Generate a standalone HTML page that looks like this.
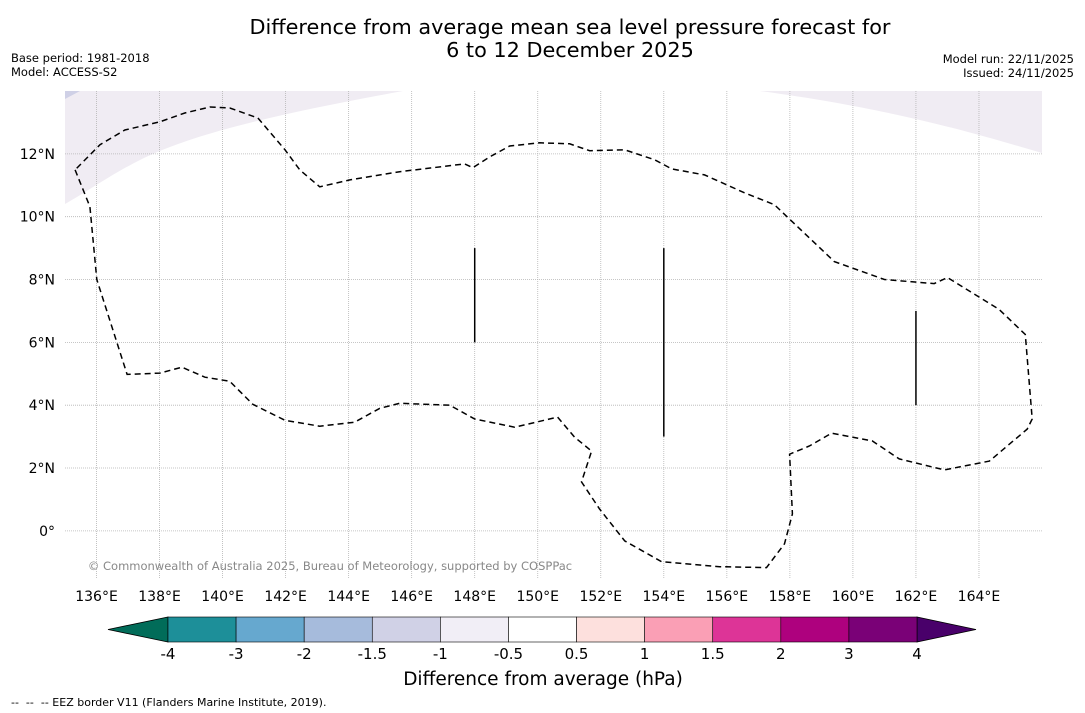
<!DOCTYPE html>
<html><head><meta charset="utf-8"><style>
body{margin:0;background:#fff;width:1085px;height:713px;overflow:hidden;font-family:"DejaVu Sans","Liberation Sans",sans-serif}
svg{display:block}
</style></head><body>
<svg id="chart" width="1085" height="713" viewBox="0 0 1085 713">
<text x="570" y="34" font-size="20.8" text-anchor="middle">Difference from average mean sea level pressure forecast for</text>
<text x="570" y="57" font-size="20.8" text-anchor="middle">6 to 12 December 2025</text>
<text x="11" y="62" font-size="11.5">Base period: 1981-2018</text>
<text x="11" y="76" font-size="11.5">Model: ACCESS-S2</text>
<text x="1074" y="63" font-size="11.5" text-anchor="end">Model run: 22/11/2025</text>
<text x="1074" y="77" font-size="11.5" text-anchor="end">Issued: 24/11/2025</text>
<g id="map">
<path d="M65,91 L403,91 C300,110 200,130 140,160 C110,175 85,193 65,204 Z" fill="#f0ecf3"/>
<path d="M65,91 L80,91 L65,99 Z" fill="#cfd0e6"/>
<path d="M760,91 L1042,91 L1042,153 C980,135 900,110 760,91 Z" fill="#f0ecf3"/>
<g id="grid"></g>
<g id="marks"></g>
</g>
<text x="330" y="570" font-size="11.5" fill="#888" text-anchor="middle">© Commonwealth of Australia 2025, Bureau of Meteorology, supported by COSPPac</text>
<g id="xticks"></g><g id="yticks"></g>
<g id="colorbar"></g>
<text x="543" y="685" font-size="18.5" text-anchor="middle">Difference from average (hPa)</text>
<text x="11" y="706" font-size="11" xml:space="preserve">--  --  -- EEZ border V11 (Flanders Marine Institute, 2019).</text>
</svg>
<script>
const lonTicks=[136,138,140,142,144,146,148,150,152,154,156,158,160,162,164];
const latTicks=[0,2,4,6,8,10,12];
const eezLon=[135.32,135.79,136.01,136.97,138.01,138.71,139.44,140.23,140.96,141.98,143.08,144.19,144.99,145.62,147.21,148.0,149.27,150.63,151.17,151.71,151.39,151.96,152.76,153.93,155.77,157.26,157.83,158.08,157.99,158.62,159.32,160.62,161.47,162.9,164.33,165.53,165.69,165.47,164.64,163.0,162.58,161.0,159.41,157.51,156.56,155.29,154.25,153.71,152.76,151.65,151.01,150.06,149.11,148.47,147.94,147.68,145.62,144.04,143.08,142.45,141.98,141.12,140.23,139.6,138.8,138.01,136.9,136.11,135.32];
const eezLat=[11.49,10.32,8.0,4.98,5.02,5.21,4.89,4.76,4.03,3.52,3.33,3.46,3.9,4.06,4.0,3.56,3.3,3.62,2.98,2.54,1.56,0.7,-0.32,-0.98,-1.14,-1.17,-0.41,0.54,2.44,2.7,3.11,2.86,2.29,1.94,2.22,3.24,3.56,6.25,7.05,8.06,7.87,8.0,8.57,10.38,10.76,11.33,11.52,11.81,12.13,12.1,12.32,12.35,12.25,11.9,11.56,11.68,11.43,11.17,10.95,11.49,12.13,13.14,13.46,13.49,13.3,13.02,12.76,12.29,11.49];
const segLon=[148,154,162];
const segLatTop=[9,9,7];
const segLatBot=[6,3,4];
const cbLevels=["-4","-3","-2","-1.5","-1","-0.5","0.5","1","1.5","2","3","4"];
const cbColors=["#1d8f99","#66a8cf","#a6bbdc","#d0d1e6","#f1eef6","#ffffff","#fde0dd","#fa9fb5","#dd3497","#ae017e","#7a0177"];
const cbUnder="#016c59", cbOver="#49006a";

const NS="http://www.w3.org/2000/svg";
const X=lon=>65+(lon-135)*(977/31);
const Y=lat=>91+(14-lat)*(487/15.5);
function el(t,a,p){const e=document.createElementNS(NS,t);for(const k in a)e.setAttribute(k,a[k]);document.getElementById(p).appendChild(e);return e;}
lonTicks.forEach(v=>{
 const l=el('line',{x1:X(v),x2:X(v),y1:91,y2:578,stroke:'#b4b4b4','stroke-width':0.8,'stroke-dasharray':'1,1'},'grid');
 
 
 const t=el('text',{x:X(v),y:601,'font-size':14,'text-anchor':'middle'},'xticks');t.textContent=v+'°E';
 
 
});
latTicks.forEach(v=>{
 const l=el('line',{x1:65,x2:1042,y1:Y(v),y2:Y(v),stroke:'#b4b4b4','stroke-width':0.8,'stroke-dasharray':'1,1'},'grid');
 
 
 const t=el('text',{x:55,y:Y(v)+5,'font-size':14,'text-anchor':'end'},'yticks');t.textContent=v===0?'0°':v+'°N';
 
 
});
let d=eezLon.map((v,i)=>(i?'L':'M')+X(v).toFixed(1)+','+Y(eezLat[i]).toFixed(1)).join(' ');
const p=el('path',{d:d,fill:'none',stroke:'#000','stroke-width':1.5,'stroke-dasharray':'6,4'},'marks');


segLon.forEach((v,i)=>{
 const l=el('line',{x1:X(v),x2:X(v),y1:Y(segLatTop[i]),y2:Y(segLatBot[i]),stroke:'#000','stroke-width':1.5},'marks');
 
 
});
const cbL=168,cbR=917,cbT=617,cbB=642,w=(cbR-cbL)/cbColors.length;
const u=el('polygon',{points:`108,${(cbT+cbB)/2} ${cbL},${cbT} ${cbL},${cbB}`,fill:cbUnder,stroke:'#000','stroke-width':0.8},'colorbar');


const o=el('polygon',{points:`976,${(cbT+cbB)/2} ${cbR},${cbT} ${cbR},${cbB}`,fill:cbOver,stroke:'#000','stroke-width':0.8},'colorbar');


cbColors.forEach((c,i)=>{
 const r=el('rect',{x:cbL+i*w,y:cbT,width:w,height:cbB-cbT,fill:c,stroke:'#000','stroke-width':0.6},'colorbar');
 
 
});
cbLevels.forEach((s,i)=>{
 const t=el('text',{x:cbL+i*w,y:659,'font-size':15,'text-anchor':'middle'},'colorbar');t.textContent=s;
 
 
});
</script>
</body></html>
